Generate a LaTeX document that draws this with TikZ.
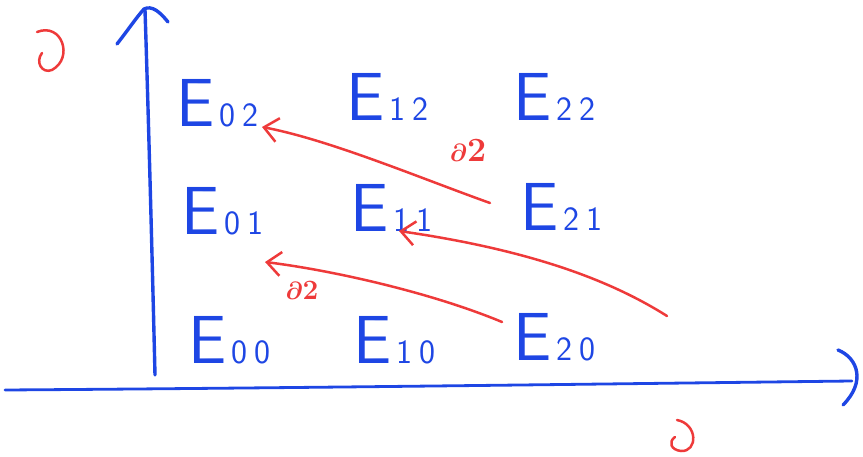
\documentclass[tikz,border=0pt]{standalone}
\usetikzlibrary{arrows.meta}
\definecolor{axblue}{RGB}{30,70,228}
\definecolor{dred}{RGB}{238,58,58}
\newcommand\Ent[2]{{\fontsize{68}{68}\selectfont E}\kern5pt{\fontsize{34}{34}\selectfont #1}\kern7pt{\fontsize{34}{34}\selectfont #2}}
\tikzset{
  axisline/.style={draw=axblue, line width=3.4pt, line cap=round, line join=round},
  entry/.style={text=axblue, font=\sffamily, anchor=base west, inner sep=0pt},
  diffline/.style={draw=dred, line width=2.5pt, line cap=round, line join=round,
    -{Straight Barb[length=14pt,width=24pt,line width=2.5pt]}},
  dlabel/.style={text=dred, inner sep=0pt},
  redmark/.style={draw=dred, line width=2.5pt, line cap=round}
}
\begin{document}
\begin{tikzpicture}[x=1pt,y=-1pt]
\useasboundingbox (0,0) rectangle (863,457);
% axes
\draw[axisline] (155,375) .. controls (152,250) and (148,100) .. (145,10);
\draw[axisline] (117,44) .. controls (128,30) and (136,18) .. (144,9) .. controls (152,5) and (160,12) .. (168,22);
\draw[axisline, line width=2.8pt] (5,390) .. controls (300,388) and (600,384) .. (852,381);
\draw[axisline] (838,350) .. controls (858,358) and (866,382) .. (843,405);
% red marks
\draw[redmark] (37,32) .. controls (62,22) and (74,58) .. (52,70) .. controls (42,74) and (35,62) .. (42,53);
\draw[redmark] (677,420) .. controls (698,424) and (698,452) .. (681,451) .. controls (671,450) and (668,442) .. (675,437);
% entries
\node[entry] (e02) at (176,127) {\Ent{0}{2}};
\node[entry] (e12) at (346,121) {\Ent{1}{2}};
\node[entry] (e22) at (513,121) {\Ent{2}{2}};
\node[entry] (e01) at (181,235) {\Ent{0}{1}};
\node[entry] (e11) at (350,232) {\Ent{1}{1}};
\node[entry] (e21) at (520,231) {\Ent{2}{1}};
\node[entry] (e00) at (188,363) {\Ent{0}{0}};
\node[entry] (e10) at (353,363) {\Ent{1}{0}};
\node[entry] (e20) at (513,361) {\Ent{2}{0}};
% differential end points
\coordinate (s1) at (490,203);
\coordinate (t1) at (262,127);
\coordinate (s2) at (667,316);
\coordinate (t2) at (399,231);
\coordinate (s3) at (502,322);
\coordinate (t3) at (265,262);
\draw[diffline] (s1) .. controls (420,178) and (330,140) .. (t1);
\draw[diffline] (s2) .. controls (610,280) and (530,250) .. (t2);
\draw[diffline] (s3) .. controls (430,292) and (330,270) .. (t3);
% labels
\node[dlabel, font=\boldmath\fontsize{34}{34}\selectfont] (l1) at (468,150) {$\partial$\textbf{2}};
\node[dlabel, font=\boldmath\fontsize{28}{28}\selectfont] (l2) at (302,290) {$\partial$\textbf{2}};
\end{tikzpicture}
\end{document}
